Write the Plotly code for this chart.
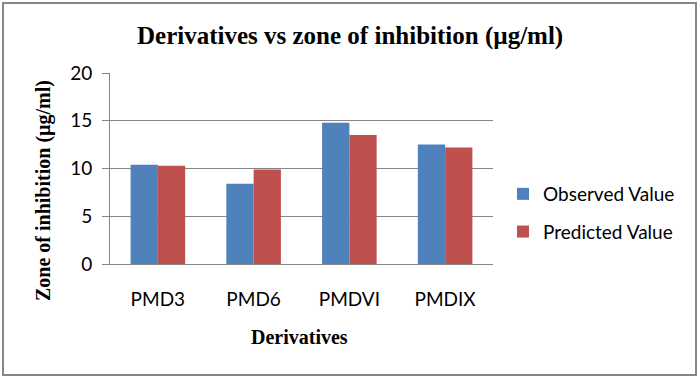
import plotly.graph_objects as go

categories = ["PMD3", "PMD6", "PMDVI", "PMDIX"]
observed = [10.4, 8.4, 14.8, 12.5]
predicted = [10.3, 9.9, 13.5, 12.2]
y_ticks = [0, 5, 10, 15, 20]

W, H = 700, 378
ML, MR, MT, MB = 110, 207, 73, 114
PW, PH = W - ML - MR, H - MT - MB

def px_to_paper_x(px):
    return (px - ML) / PW

def px_to_paper_y(py):
    return (H - MB - py) / PH

sans = "Lato, 'Liberation Sans', Arial, sans-serif"
serif = "'Liberation Serif', 'Times New Roman', serif"

fig = go.Figure()
fig.add_trace(go.Bar(name="Observed Value", x=categories, y=observed, legendgroup="obs",
                     marker=dict(color="#4F81BD", line=dict(width=0))))
fig.add_trace(go.Bar(name="Predicted Value", x=categories, y=predicted, legendgroup="pred",
                     marker=dict(color="#C0504D", line=dict(width=0))))

fig.update_layout(
    width=W, height=H,
    margin=dict(l=ML, r=MR, t=MT, b=MB, pad=0),
    paper_bgcolor="white", plot_bgcolor="white",
    barmode="group", bargap=0.43, bargroupgap=0,
    showlegend=True,
    legend=dict(x=px_to_paper_x(503), y=px_to_paper_y(175), xanchor="left", yanchor="top",
                font=dict(family=sans, size=19, color="#000000"),
                tracegroupgap=10, itemsizing="constant", bgcolor="rgba(0,0,0,0)"),
    font=dict(family=sans, size=19, color="#000000"),
    xaxis=dict(showgrid=False, showline=True, linecolor="#868686", linewidth=1,
               ticks="", tickfont=dict(family=sans, size=19, color="#000000"),
               ticklabelstandoff=18),
    yaxis=dict(range=[0, 20], tickvals=y_ticks, showgrid=True, gridcolor="#868686", gridwidth=1,
               showline=True, linecolor="#868686", linewidth=1, ticks="outside", ticklen=7,
               tickcolor="#868686", tickfont=dict(family=sans, size=19, color="#000000"),
               ticklabelstandoff=6, zeroline=False),
    annotations=[
        dict(text="<b>Derivatives vs zone of inhibition (µg/ml)</b>", xref="paper", yref="paper",
             x=px_to_paper_x(350), y=px_to_paper_y(36), xanchor="center", yanchor="middle",
             showarrow=False, font=dict(family=serif, size=25, color="#000000")),
        dict(text="<b>Zone of inhibition (µg/ml)</b>", xref="paper", yref="paper",
             x=px_to_paper_x(43), y=px_to_paper_y(191), xanchor="center", yanchor="middle",
             textangle=-90, showarrow=False, font=dict(family=serif, size=20, color="#000000")),
        dict(text="<b>Derivatives</b>", xref="paper", yref="paper",
             x=px_to_paper_x(299), y=px_to_paper_y(337), xanchor="center", yanchor="middle",
             showarrow=False, font=dict(family=serif, size=20, color="#000000")),
    ],
    shapes=[
        dict(type="rect", xref="paper", yref="paper",
             x0=px_to_paper_x(3), x1=px_to_paper_x(696),
             y0=px_to_paper_y(375), y1=px_to_paper_y(3),
             line=dict(color="#868686", width=2), fillcolor="rgba(0,0,0,0)", layer="below"),
    ],
)

fig.write_html("out.html", config={"displayModeBar": False},
               post_script="document.body.style.margin='0';document.body.style.overflow='hidden';")
